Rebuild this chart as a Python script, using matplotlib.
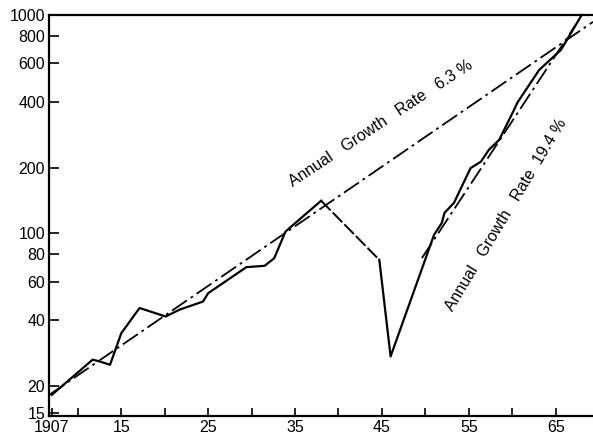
import matplotlib
matplotlib.use('Agg')
from matplotlib import pyplot as plt
from matplotlib.ticker import FixedLocator, NullLocator

plt.rcParams['font.family'] = ['Liberation Sans', 'DejaVu Sans']
plt.rcParams['font.size'] = 11

# values (index, log scale)
pre_years = [1907, 1911.7, 1912.5, 1913.7, 1915.0, 1917.1, 1920.1, 1921.7, 1924.4,
             1925.0, 1929.4, 1931.5, 1932.6, 1933.9, 1938.0]
pre_values = [18.2, 26.4, 25.9, 25.0, 34.9, 45.5, 41.6, 44.7, 48.7,
              53.2, 70.0, 71.0, 76.9, 101.9, 141]

war_years = [1938.0, 1944.7]
war_values = [141, 75.6]

post_years = [1944.7, 1946.0, 1951.0, 1951.9, 1952.2, 1953.3, 1955.2, 1956.4,
              1957.3, 1958.5, 1960.2, 1960.6, 1963.1, 1965.6, 1968.0]
post_values = [75.6, 27.3, 98.4, 111.7, 124, 138, 198.8, 213,
               241, 268, 367, 397, 560, 691, 1000]

trend1_years = [1906.7, 1969.3]
trend1_values = [18.2, 930]
trend2_years = [1949.6, 1967.3]
trend2_values = [77.0, 900]

x_ticks = [1907, 1915, 1925, 1935, 1945, 1955, 1965]
x_labels = ['1907', '15', '25', '35', '45', '55', '65']
x_minor = [1910, 1920, 1930, 1940, 1950, 1960]
y_ticks = [15, 20, 40, 60, 80, 100, 200, 400, 600, 800, 1000]

fig = plt.figure(figsize=(5.93, 4.40), dpi=100)
ax = fig.add_axes([0.083, 0.055, 0.917, 0.911])

ax.plot(pre_years, pre_values, color='black', lw=1.6)
ax.plot(war_years, war_values, color='black', lw=1.4, dashes=(7, 1.5))
ax.plot(post_years, post_values, color='black', lw=1.6, clip_on=False)

ax.plot(trend1_years, trend1_values, color='black', lw=1.3, dashes=(10, 2.5, 1.5, 2.5))
ax.plot(trend2_years, trend2_values, color='black', lw=1.3, dashes=(10, 2.5, 1.5, 2.5))

ax.text(1944.9, 320, 'Annual   Growth   Rate   6.3 %', rotation=33.5,
        rotation_mode='anchor', ha='center', va='center', fontsize=11.5)
ax.text(1959.3, 122, 'Annual   Growth   Rate  19.4 %', rotation=59,
        rotation_mode='anchor', ha='center', va='center', fontsize=11.5)

ax.set_yscale('log')
ax.set_xlim(1906.7, 1969.3)
ax.set_ylim(14.6, 1000)

ax.yaxis.set_major_locator(FixedLocator(y_ticks))
ax.yaxis.set_minor_locator(NullLocator())
ax.set_yticklabels([str(v) for v in y_ticks])
ax.set_xticks(x_ticks)
ax.set_xticklabels(x_labels)
ax.xaxis.set_minor_locator(FixedLocator(x_minor))

ax.tick_params(axis='y', direction='in', length=7, width=1.2, labelsize=11.5, pad=3)
ax.tick_params(axis='x', which='both', direction='in', length=6, width=1.2, labelsize=11.5, pad=3)

for side in ['left', 'bottom', 'top']:
    ax.spines[side].set_linewidth(1.6)
ax.spines['right'].set_visible(False)

plt.savefig('out.png', dpi=100)
